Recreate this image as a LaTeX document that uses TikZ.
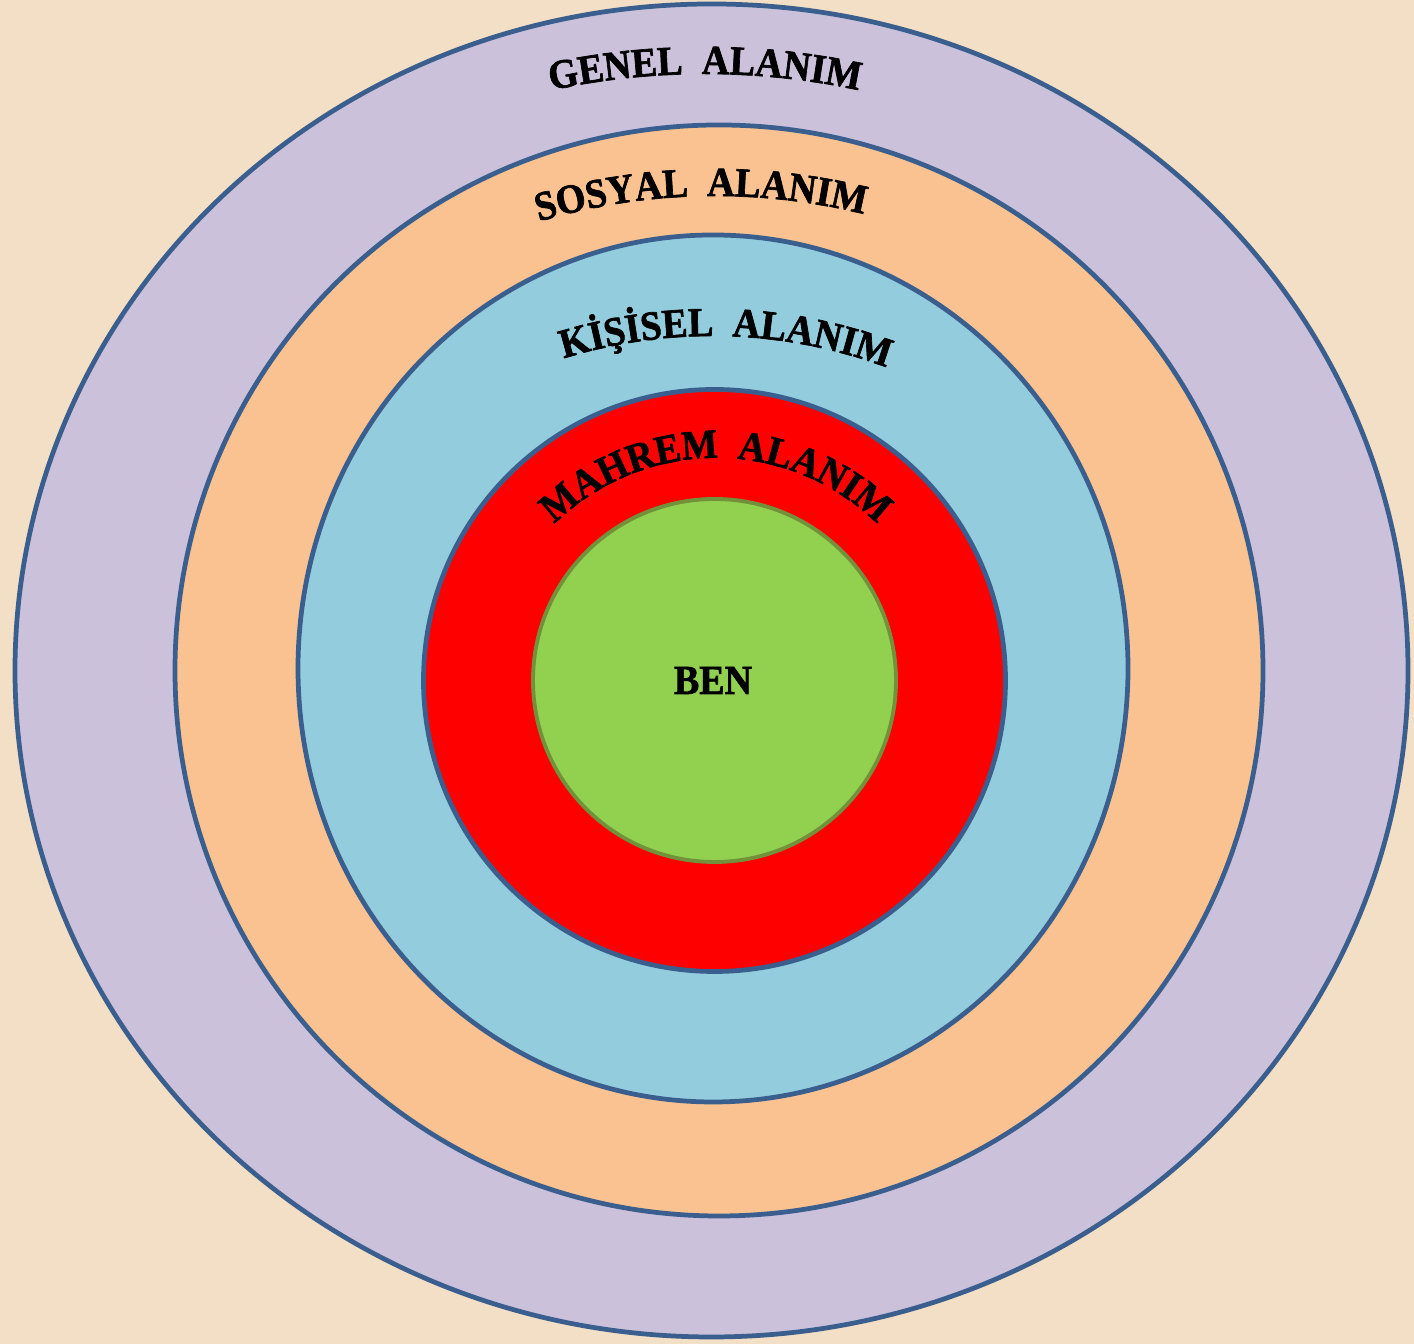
\documentclass[tikz,border=0pt]{standalone}
\usepackage{fontspec}
\setmainfont{Liberation Serif}
\newfontfamily\zonefont[UprightFont={* Bold},FakeBold=1.6,FakeStretch=0.92]{Liberation Serif}
\usetikzlibrary{decorations.text}
\definecolor{wood}{HTML}{F2DFC5}
\definecolor{rim}{HTML}{3A5F8E}
\definecolor{genel}{HTML}{CCC1DA}
\definecolor{sosyal}{HTML}{F9C290}
\definecolor{kisisel}{HTML}{93CDDD}
\definecolor{mahrem}{HTML}{FF0000}
\definecolor{ben}{HTML}{92D050}
\definecolor{benrim}{HTML}{71923B}
\tikzset{zone/.style={draw=rim,line width=2.7pt},
  arclabel/.style={decorate,decoration={text along path,text align=center,
    text={|\zonefont\fontsize{23.5}{28}\selectfont|#1}}}}

\begin{document}
\begin{tikzpicture}[x=0.02cm,y=0.02cm]
  \fill[wood] (0,0) rectangle (1414,1344);
  \useasboundingbox (0,0) rectangle (1414,1344);
  % rings, outermost first
  \filldraw[zone,fill=genel] (711.5,673.5) ellipse[x radius=696.5,y radius=666.5];
  \filldraw[zone,fill=sosyal] (719,673.5) ellipse[x radius=544,y radius=545.5];
  \filldraw[zone,fill=kisisel] (713,675.5) ellipse[x radius=415,y radius=433.5];
  \filldraw[zone,fill=mahrem] (714.5,663.5) circle[radius=291];
  \filldraw[draw=benrim,line width=2.2pt,fill=ben] (714.5,663.5) circle[radius=181.5];
  \node[font=\zonefont\fontsize{23.5}{28}\selectfont] (ben) at (713,663.5) {BEN};
  % curved labels
  \path[arclabel={GENEL{\kern.45em}ALANIM}] (705,537) ++(120:733) arc[start angle=120,end angle=60,radius=733];
  \path[arclabel={SOSYAL{\kern.45em}ALANIM}] (715,528) ++(121.3:620) arc[start angle=121.3,end angle=61.3,radius=620];
  \path[arclabel={KİŞİSEL{\kern.45em}ALANIM}] (712,508) ++(118.4:500) arc[start angle=118.4,end angle=58.4,radius=500];
  \path[arclabel={MAHREM{\kern.45em}ALANIM}] (716,656) ++(150:230) arc[start angle=150,end angle=30,radius=230];
\end{tikzpicture}
\end{document}
